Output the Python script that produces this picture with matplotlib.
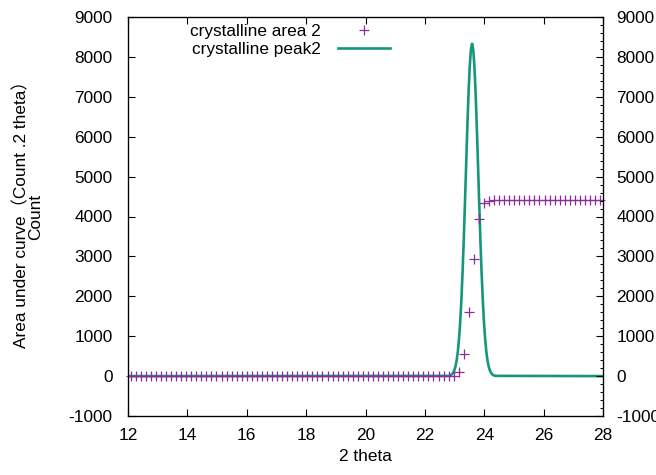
import numpy as np
import matplotlib
matplotlib.use("Agg")
import matplotlib.pyplot as plt

plt.rcParams['font.family'] = ['Liberation Sans', 'Noto Sans CJK SC', 'DejaVu Sans']
plt.rcParams['font.size'] = 12.4
plt.rcParams['axes.unicode_minus'] = False

# Cumulative area under the crystalline peak, sampled every 0.17 deg from 12.09
area_x = np.round(12.09 + 0.17 * np.arange(94), 2)
area_y = [
    0, 0, 0, 0, 0, 0, 0, 0, 0, 0, 0, 0, 0,
    0, 0, 0, 0, 0, 0, 0, 0, 0, 0, 0, 0, 0,
    0, 0, 0, 0, 0, 0, 0, 0, 0, 0, 0, 0, 0,
    0, 0, 0, 0, 0, 0, 0, 0, 0, 0, 0, 0, 0,
    0, 0, 0, 0, 0, 0, 0, 0, 0, 0, 0, 0, 0,
    100, 560, 1600, 2940, 3940, 4330, 4400,
    4420, 4420, 4420, 4420, 4420, 4420, 4420, 4420, 4420, 4420, 4420,
    4420, 4420, 4420, 4420, 4420, 4420, 4420, 4420, 4420, 4420, 4420,
]

# Crystalline peak profile (counts)
peak_x = [12.0,
          22.79, 22.83, 22.87, 22.91, 22.95, 22.99, 23.03, 23.07, 23.11, 23.15,
          23.19, 23.23, 23.27, 23.31, 23.35, 23.39, 23.43, 23.47, 23.51, 23.55,
          23.59,
          23.63, 23.67, 23.71, 23.75, 23.79, 23.83, 23.87, 23.91, 23.95, 23.99,
          24.03, 24.07, 24.11, 24.15, 24.19, 24.23, 24.27, 24.31, 24.35, 24.39,
          28.0]
peak_y = [0,
          6, 12, 23, 44, 80, 141, 238, 388, 611, 928,
          1358, 1917, 2609, 3424, 4335, 5293, 6232, 7075, 7747, 8180,
          8330,
          8180, 7747, 7075, 6232, 5293, 4335, 3424, 2609, 1917, 1358,
          928, 611, 388, 238, 141, 80, 44, 23, 12, 6,
          0]

x_ticks = [12, 14, 16, 18, 20, 22, 24, 26, 28]
y_ticks = [-1000, 0, 1000, 2000, 3000, 4000, 5000, 6000, 7000, 8000, 9000]

purple = '#8a2d98'
teal = '#17977a'

fig = plt.figure(figsize=(6.56, 4.75), dpi=100)
ax = fig.add_axes([128 / 656, 1 - 416 / 475, 475 / 656, 399 / 475])

ax.plot(area_x, area_y, linestyle='none', marker='+', markersize=6.5,
        markeredgewidth=0.9, color=purple, label='crystalline area 2',
        clip_on=False, zorder=3)
ax.plot(peak_x, peak_y, color=teal, linewidth=1.9, label='crystalline peak2',
        zorder=2)

ax.set_xlim(12, 28)
ax.set_ylim(-1000, 9000)
ax.set_xticks(x_ticks)
ax.set_yticks(y_ticks)
ax.tick_params(axis='both', direction='in', length=5, width=0.8,
               top=True, bottom=True, left=True, right=False)
ax.tick_params(axis='x', pad=9)
ax.tick_params(axis='y', pad=11)
for s in ax.spines.values():
    s.set_linewidth(0.9)

ax2 = ax.twinx()
ax2.set_ylim(-1000, 9000)
ax2.set_yticks(y_ticks)
ax2.set_yticks(np.arange(-1000, 9001, 200), minor=True)
ax2.tick_params(axis='y', which='major', direction='in', length=5, width=0.8,
                pad=9.5)
ax2.tick_params(axis='y', which='minor', direction='in', length=2.5, width=0.7)

ax.set_xlabel('2 theta', labelpad=4)
fig.text(21 / 656, 1 - 210 / 475, 'Area under curve（Count .2 theta）',
         rotation=90, ha='center', va='center')
fig.text(36 / 656, 1 - 217 / 475, 'Count', rotation=90, ha='center',
         va='center')

leg = ax.legend(loc='upper right', bbox_to_anchor=(0.5516, 0.982),
                frameon=False, markerfirst=False, handlelength=3.0,
                handletextpad=1.0, labelspacing=0.15, borderpad=0,
                borderaxespad=0)

fig.savefig('out.png', dpi=100)
